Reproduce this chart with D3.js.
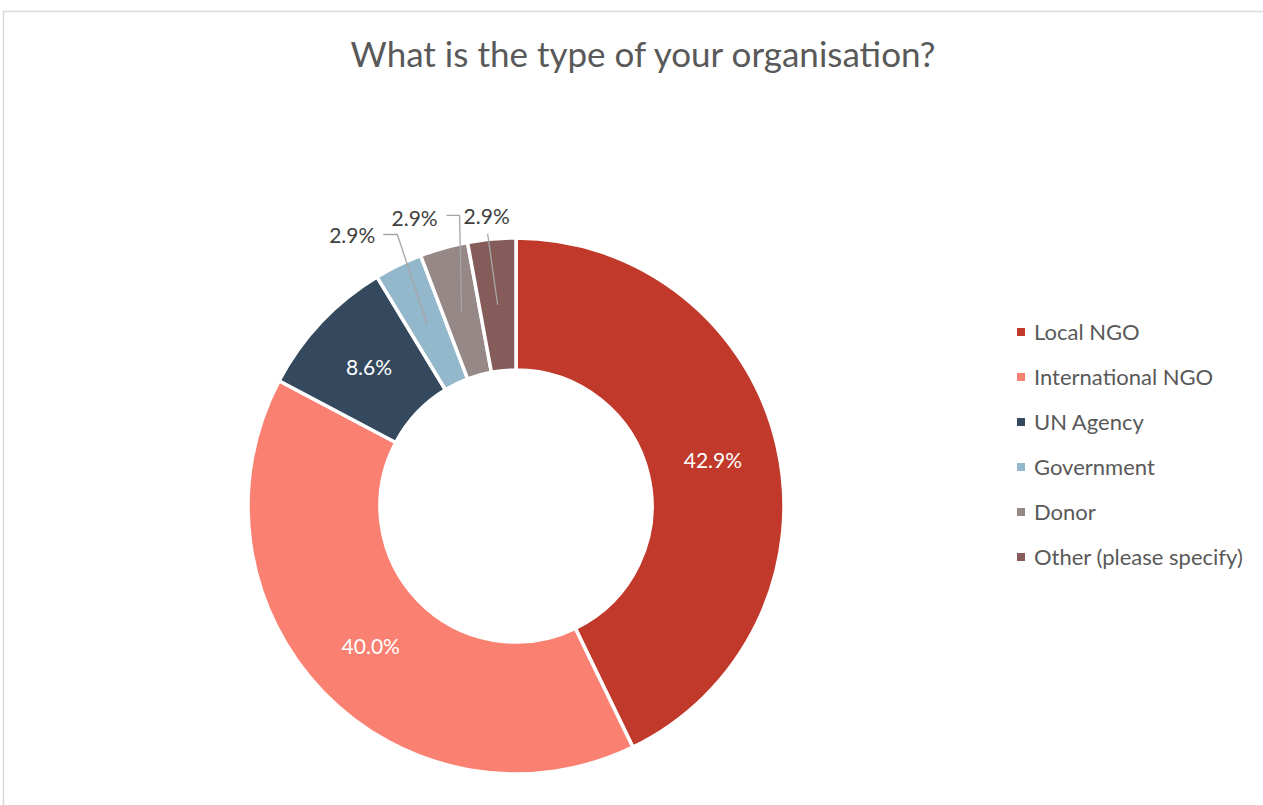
<!DOCTYPE html>
<html lang="en">
<head>
<meta charset="utf-8">
<title>What is the type of your organisation?</title>
<script src="https://d3js.org/d3.v7.min.js"></script>
<style>
  body { margin: 0; background: #fff; }
  text { font-family: Lato, "Open Sans", sans-serif; }
</style>
</head>
<body>
<script>
// data
var categories = ["Local NGO", "International NGO", "UN Agency", "Government", "Donor", "Other (please specify)"];
var shares = [42.9, 40.0, 8.6, 2.9, 2.9, 2.9];
var colors = ["#c0392b", "#fa8072", "#34495e", "#94b8cb", "#958886", "#865c5b"];

var w = 1263, h = 805;
var cx = 516, cy = 506;
var outerR = 268, innerR = 136;

var svg = d3.select("body").append("svg")
  .attr("width", w)
  .attr("height", h);

// frame
svg.append("rect")
  .attr("x", 3.5).attr("y", 11.5)
  .attr("width", w + 10).attr("height", h)
  .attr("fill", "none")
  .attr("stroke", "#d9d9d9")
  .attr("stroke-width", 1.5);

// title
svg.append("text")
  .attr("x", 643).attr("y", 67)
  .attr("text-anchor", "middle")
  .attr("fill", "#595959")
  .style("font-size", "35px")
  .text("What is the type of your organisation?");

var pie = d3.pie().sort(null).value(d => d.value);
var arc = d3.arc().innerRadius(innerR).outerRadius(outerR);
var arcs = pie(categories.map((c, i) => ({ name: c, value: shares[i], color: colors[i] })));

var g = svg.append("g").attr("transform", "translate(" + cx + "," + cy + ")");

g.selectAll("path")
  .data(arcs)
  .enter()
  .append("path")
  .attr("d", arc)
  .attr("fill", d => d.data.color)
  .attr("stroke", "#fff")
  .attr("stroke-width", 3.5)
  .attr("stroke-linejoin", "miter");

// labels inside big slices
var big = arcs.filter(d => d.data.value > 5);
g.selectAll("text.inner")
  .data(big)
  .enter()
  .append("text")
  .attr("class", "inner")
  .attr("x", d => arc.centroid(d)[0])
  .attr("y", d => arc.centroid(d)[1])
  .attr("dy", "0.35em")
  .attr("text-anchor", "middle")
  .attr("fill", "#fff")
  .style("font-size", "21px")
  .text(d => d.data.value.toFixed(1) + "%");

// callout labels for the small slices (offsets from slice centroid)
var callouts = {
  3: { text: [-52, -89], anchor: "end", line: [[-30, -90], [-44, -90]] },
  4: { text: [-47, -93], anchor: "middle", line: [[-2, -96], [-15, -96]] },
  5: { text: [-11, -88], anchor: "middle", line: [[-10, -71]] }
};

arcs.forEach(function (d, i) {
  var co = callouts[i];
  if (!co) return;
  var c = arc.centroid(d);
  var pts = [c].concat(co.line.map(p => [c[0] + p[0], c[1] + p[1]]));
  g.append("path")
    .attr("d", d3.line()(pts))
    .attr("fill", "none")
    .attr("stroke", "#a6a6a6")
    .attr("stroke-width", 1.3);
  g.append("text")
    .attr("x", c[0] + co.text[0])
    .attr("y", c[1] + co.text[1])
    .attr("dy", "0.35em")
    .attr("text-anchor", co.anchor)
    .attr("fill", "#404040")
    .style("font-size", "21px")
    .text(d.data.value.toFixed(1) + "%");
});

// legend
var legend = svg.append("g").attr("transform", "translate(1017,332)");
var item = legend.selectAll("g")
  .data(categories)
  .enter()
  .append("g")
  .attr("transform", (d, i) => "translate(0," + i * 45 + ")");

item.append("rect")
  .attr("x", 0).attr("y", -4)
  .attr("width", 8).attr("height", 8)
  .attr("fill", (d, i) => colors[i]);

item.append("text")
  .attr("x", 17).attr("y", 0)
  .attr("dy", "0.35em")
  .attr("fill", "#595959")
  .style("font-size", "22px")
  .text(d => d);
</script>
</body>
</html>
